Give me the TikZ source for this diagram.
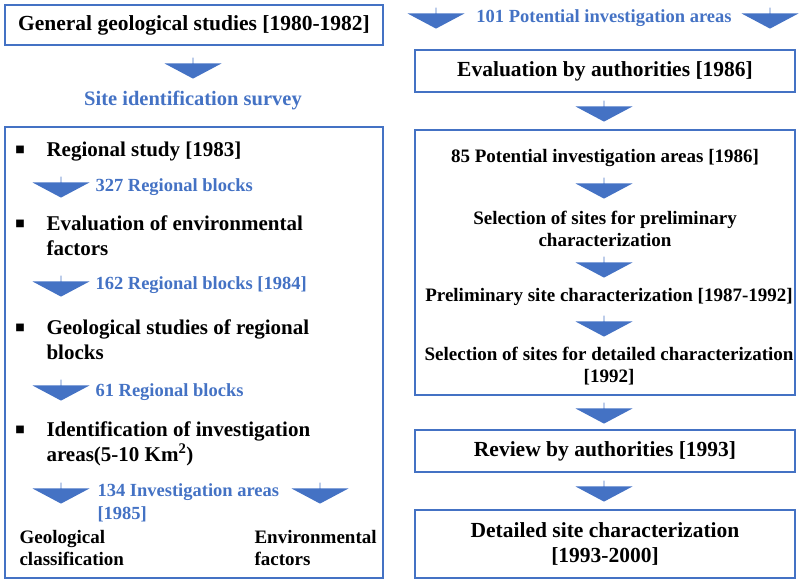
\documentclass[tikz,border=0pt]{standalone}
\usepackage{fontspec}
\setmainfont{Liberation Serif}
\newfontfamily\symfont{DejaVu Sans}
\usetikzlibrary{shapes.arrows,positioning}
\definecolor{flowblue}{HTML}{4472C4}
\begin{document}
\begin{tikzpicture}[x=1pt, y=-1pt,
    frame/.style={draw=flowblue, line width=1.2pt},
    downarrow/.style={single arrow, fill=flowblue, draw=none, shape border rotate=270,
        minimum height=21pt, minimum width=57pt, single arrow head extend=14.5pt,
        single arrow tip angle=124, inner sep=0pt},
    title/.style={font=\bfseries\fontsize{21.5}{25}\selectfont, align=center},
    item/.style={font=\bfseries\fontsize{21}{25}\selectfont, align=left, anchor=west},
    count/.style={font=\bfseries\fontsize{18.5}{23}\selectfont, text=flowblue, align=left},
    inner/.style={font=\bfseries\fontsize{19}{22}\selectfont, align=center},
    bullet/.style={font=\symfont\fontsize{10}{10}\selectfont}
]
    \useasboundingbox (0,0) rectangle (800,582);

    % Left column
    \node[frame, minimum width=378pt, minimum height=40pt, title] (gen) at (194,25) {General geological studies [1980-1982]};
    \node[downarrow] (a0) at (193,68) {};
    \node[count, font=\bfseries\fontsize{20.5}{24}\selectfont] (site) at (193,100) {Site identification survey};
    \draw[frame] (5,127) rectangle (383,578);

    \node[bullet] (b1) at (20,150) {■};
    \node[item] (reg) at (43,152) {Regional study [1983]};
    \node[downarrow] (a1) at (61,187) {};
    \node[count, anchor=west] (c1) at (92,187) {327 Regional blocks};

    \node[bullet] (b2) at (20,224) {■};
    \node[item, anchor=north west] (env) at (43,212) {Evaluation of environmental\\factors};
    \node[downarrow] (a2) at (61,286) {};
    \node[count, anchor=west] (c2) at (92,285) {162 Regional blocks [1984]};

    \node[bullet] (b3) at (20,328) {■};
    \node[item, anchor=north west] (geo) at (43,316) {Geological studies of regional\\blocks};
    \node[downarrow] (a3) at (61,390) {};
    \node[count, anchor=west] (c3) at (92,392) {61 Regional blocks};

    \node[bullet] (b4) at (20,430) {■};
    \node[item, anchor=north west] (ide) at (43,418) {Identification of investigation\\areas(5-10 Km\textsuperscript{2})};
    \node[downarrow] (a4) at (61,493) {};
    \node[downarrow] (a5) at (320,493) {};
    \node[count, anchor=north west] (c4) at (94,480) {134 Investigation areas\\{[1985]}};

    \node[inner, align=left, anchor=north west] (gc) at (16,527) {Geological\\classification};
    \node[inner, align=left, anchor=north west] (ef) at (251,527) {Environmental\\factors};

    % Right column
    \node[downarrow] (r0) at (436,18) {};
    \node[downarrow] (r0b) at (770,18) {};
    \node[count] (pot) at (604,18) {101 Potential investigation areas};
    \node[frame, minimum width=380pt, minimum height=42pt, title] (auth) at (605,71) {Evaluation by authorities [1986]};
    \node[downarrow] (r1) at (604,111) {};
    \draw[frame] (415,130) rectangle (795,395);
    \node[inner] (p85) at (605,158) {85 Potential investigation areas [1986]};
    \node[downarrow] (r2) at (604,188) {};
    \node[inner] (selp) at (605,229) {Selection of sites for preliminary\\characterization};
    \node[downarrow] (r3) at (604,267) {};
    \node[inner] (prel) at (609,297) {Preliminary site characterization [1987-1992]};
    \node[downarrow] (r4) at (604,326) {};
    \node[inner] (seld) at (609,366) {Selection of sites for detailed characterization\\{[1992]}};
    \node[downarrow] (r5) at (604,413) {};
    \node[frame, minimum width=380pt, minimum height=42pt, title] (rev) at (605,451) {Review by authorities [1993]};
    \node[downarrow] (r6) at (604,491) {};
    \node[frame, minimum width=380pt, minimum height=68pt, title] (det) at (605,544) {Detailed site characterization\\{[1993-2000]}};
\end{tikzpicture}
\end{document}
